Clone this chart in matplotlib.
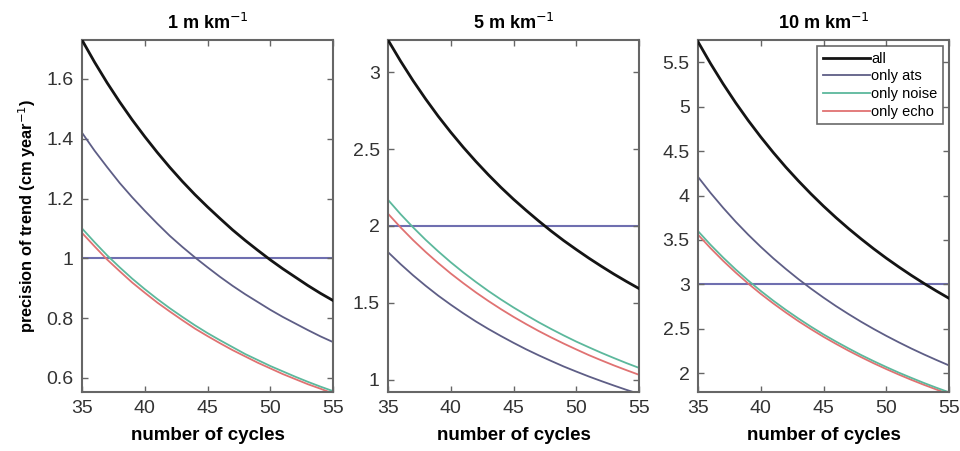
import matplotlib
matplotlib.use("Agg")
import matplotlib.pyplot as plt

plt.rcParams['font.family'] = ['Liberation Sans', 'DejaVu Sans']

cycles = list(range(35, 56))

titles = ["1 m km$^{-1}$", "5 m km$^{-1}$", "10 m km$^{-1}$"]
thresholds = [1.0, 2.0, 3.0]

# panel 1 (1 m/km)
p1_all = [1.730, 1.656, 1.587, 1.523, 1.463, 1.407, 1.354, 1.304, 1.257, 1.213, 1.172,
          1.133, 1.095, 1.060, 1.027, 0.995, 0.965, 0.937, 0.909, 0.883, 0.859]
p1_ats = [1.420, 1.360, 1.305, 1.252, 1.204, 1.159, 1.116, 1.075, 1.038, 1.003, 0.970,
          0.938, 0.908, 0.880, 0.854, 0.828, 0.804, 0.782, 0.760, 0.739, 0.720]
p1_noise = [1.100, 1.054, 1.010, 0.970, 0.932, 0.897, 0.864, 0.833, 0.804, 0.776, 0.750,
            0.726, 0.703, 0.680, 0.660, 0.640, 0.622, 0.604, 0.587, 0.571, 0.556]
p1_echo = [1.085, 1.040, 0.996, 0.957, 0.919, 0.885, 0.852, 0.822, 0.793, 0.765, 0.740,
           0.716, 0.693, 0.672, 0.651, 0.632, 0.613, 0.596, 0.579, 0.564, 0.548]

# panel 2 (5 m/km)
p2_all = [3.210, 3.073, 2.945, 2.826, 2.714, 2.610, 2.512, 2.420, 2.333, 2.251, 2.174,
          2.102, 2.033, 1.967, 1.905, 1.847, 1.791, 1.738, 1.687, 1.639, 1.593]
p2_ats = [1.830, 1.752, 1.679, 1.611, 1.547, 1.488, 1.432, 1.379, 1.330, 1.284, 1.240,
          1.198, 1.159, 1.122, 1.086, 1.053, 1.021, 0.991, 0.962, 0.934, 0.908]
p2_noise = [2.170, 2.077, 1.991, 1.910, 1.835, 1.764, 1.698, 1.636, 1.577, 1.522, 1.470,
            1.421, 1.374, 1.330, 1.288, 1.248, 1.211, 1.175, 1.141, 1.108, 1.077]
p2_echo = [2.080, 1.991, 1.908, 1.831, 1.759, 1.691, 1.628, 1.568, 1.512, 1.459, 1.409,
           1.362, 1.317, 1.275, 1.235, 1.197, 1.160, 1.126, 1.093, 1.062, 1.032]

# panel 3 (10 m/km)
p3_all = [5.730, 5.485, 5.257, 5.044, 4.845, 4.659, 4.484, 4.319, 4.165, 4.019, 3.881,
          3.751, 3.628, 3.512, 3.401, 3.296, 3.197, 3.102, 3.012, 2.926, 2.844]
p3_ats = [4.210, 4.030, 3.863, 3.706, 3.560, 3.423, 3.294, 3.174, 3.060, 2.953, 2.852,
          2.756, 2.666, 2.580, 2.499, 2.422, 2.349, 2.279, 2.213, 2.150, 2.089]
p3_noise = [3.600, 3.446, 3.303, 3.169, 3.044, 2.927, 2.817, 2.714, 2.617, 2.525, 2.438,
            2.357, 2.280, 2.206, 2.137, 2.071, 2.008, 1.949, 1.892, 1.838, 1.787]
p3_echo = [3.560, 3.408, 3.266, 3.134, 3.010, 2.894, 2.786, 2.684, 2.587, 2.497, 2.411,
           2.331, 2.254, 2.182, 2.113, 2.048, 1.986, 1.927, 1.871, 1.818, 1.767]

panels = [
    (p1_all, p1_ats, p1_noise, p1_echo),
    (p2_all, p2_ats, p2_noise, p2_echo),
    (p3_all, p3_ats, p3_noise, p3_echo),
]
ylims = [(0.553, 1.73), (0.92, 3.21), (1.79, 5.75)]
yticks = [[0.6, 0.8, 1.0, 1.2, 1.4, 1.6],
          [1, 1.5, 2, 2.5, 3],
          [2, 2.5, 3, 3.5, 4, 4.5, 5, 5.5]]
yticklabels = [["0.6", "0.8", "1", "1.2", "1.4", "1.6"],
               ["1", "1.5", "2", "2.5", "3"],
               ["2", "2.5", "3", "3.5", "4", "4.5", "5", "5.5"]]
xticks = [35, 40, 45, 50, 55]

labels = ["all", "only ats", "only noise", "only echo"]
colors = ["#141414", "#5e5e86", "#5cb89c", "#e07272"]
widths = [2.0, 1.3, 1.3, 1.3]
thr_color = "#6f6fb0"

fig = plt.figure(figsize=(9.6, 4.51), dpi=100)
lefts = [82 / 960, 388 / 960, 698 / 960]
w = 251 / 960
bottom = 1 - 392 / 451
h = 352 / 451

for i in range(3):
    ax = fig.add_axes([lefts[i], bottom, w, h])
    ser = panels[i]
    handles = {}
    for k in [3, 2, 1, 0]:
        ln, = ax.plot(cycles, ser[k], color=colors[k], lw=widths[k], label=labels[k],
                      zorder=3 if k == 0 else 2)
        handles[k] = ln
    ax.axhline(thresholds[i], color=thr_color, lw=1.5, zorder=1)
    ax.set_xlim(35, 55)
    ax.set_ylim(*ylims[i])
    ax.set_xticks(xticks)
    ax.set_xticklabels([str(x) for x in xticks])
    ax.set_yticks(yticks[i])
    ax.set_yticklabels(yticklabels[i])
    ax.tick_params(direction='in', top=True, right=True, length=4, width=1,
                   colors='#666666', labelcolor='#333333', labelsize=14, pad=6)
    for sp in ax.spines.values():
        sp.set_color('#666666')
        sp.set_linewidth(1.5)
    ax.set_title(titles[i], fontsize=13, fontweight='bold', pad=8)
    ax.set_xlabel("number of cycles", fontsize=13.5, fontweight='bold', labelpad=7)
    if i == 0:
        ax.set_ylabel("precision of trend (cm year$^{-1}$)", fontsize=11.8,
                      fontweight='bold', labelpad=6)
    if i == 2:
        leg = ax.legend([handles[0], handles[1], handles[2], handles[3]], labels,
                        loc='upper right', fontsize=10.5, frameon=True, fancybox=False,
                        handlelength=3.2, handletextpad=0.1, borderpad=0.4,
                        labelspacing=0.25, borderaxespad=0.4)
        leg.get_frame().set_edgecolor('#444444')
        leg.get_frame().set_linewidth(1.2)

fig.savefig("out.png", dpi=100)
